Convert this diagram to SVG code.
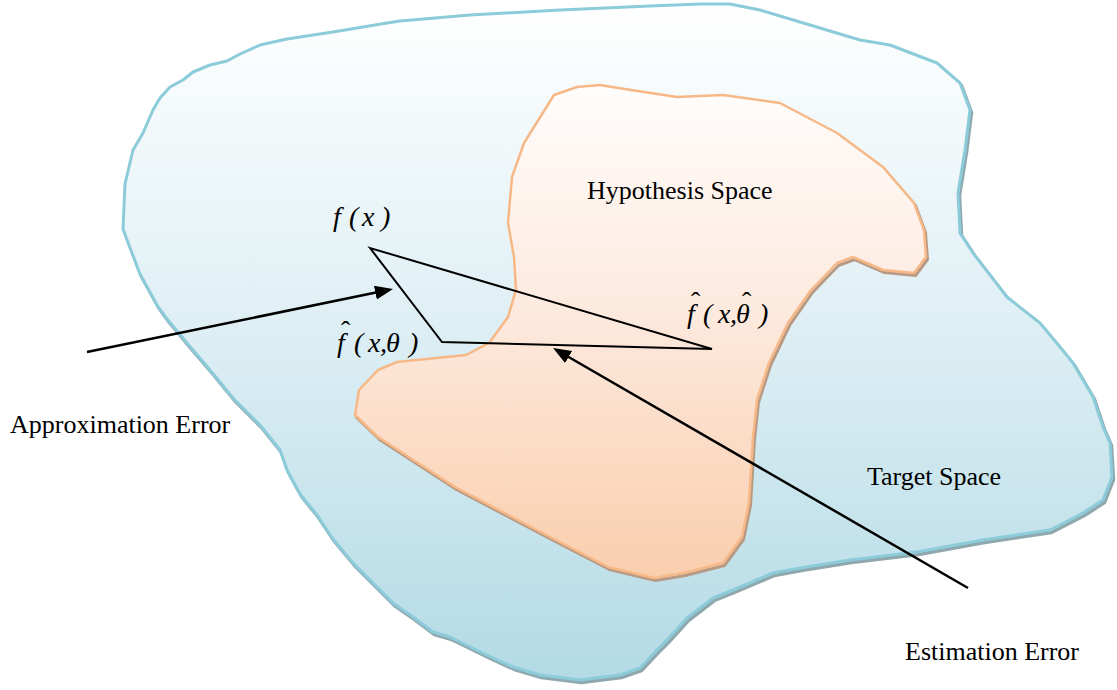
<svg xmlns="http://www.w3.org/2000/svg" width="1117" height="690" viewBox="0 0 1117 690">
  <style>
    .lbl { font-family: "Liberation Serif", "Times New Roman", serif; font-size: 26px; fill: #000; }
    .math { font-family: "Liberation Serif", "Times New Roman", serif; font-style: italic; font-size: 28px; fill: #000; }
    .hat { font-style: normal; }
    .conn { stroke: #000; fill: none; }
  </style>
  <defs>
    <linearGradient id="blueGrad" x1="0" y1="0" x2="0" y2="1">
      <stop offset="0" stop-color="#ffffff"/>
      <stop offset="0.45" stop-color="#e0f0f5"/>
      <stop offset="1" stop-color="#b3dae5"/>
    </linearGradient>
    <linearGradient id="orangeGrad" x1="0" y1="0" x2="0" y2="1">
      <stop offset="0" stop-color="#fffdfc"/>
      <stop offset="0.45" stop-color="#fdeadf"/>
      <stop offset="1" stop-color="#f9cead"/>
    </linearGradient>
    <marker id="arrow" markerUnits="userSpaceOnUse" markerWidth="20" markerHeight="16" refX="8" refY="7" orient="auto">
      <path d="M0,0 L18,7 L0,14 Z" fill="#000"/>
    </marker>
  </defs>

  <g id="target-space">
    <path transform="translate(1.5,2.5)" fill="none" stroke="#8ea8ae" stroke-width="3.5" stroke-linejoin="round"
      d="M133,150 L143,133 L153,110 L160,98 L170,87 L183,80 L193,72 L210,65 L227,61 L240,54 L260,45 L287,39 L333,32 L387,23 L400,21 L470,15 L560,10 L650,6 L700,4 L730,4 L760,10 L810,25 L860,40 L890,45 L937,63 L960,83 L970,110 L965,150 L958,193 L960,233 L973,253 L1007,297 L1040,323 L1060,347 L1073,363 L1083,380 L1093,397 L1103,427 L1110,443 L1112,477 L1103,500 L1083,513 L1050,530 L983,540 L917,552 L850,560 L800,568 L773,573 L733,590 L713,598 L687,618 L667,640 L657,650 L640,668 L620,675 L580,680 L540,675 L513,667 L493,658 L450,637 L433,632 L413,617 L393,603 L377,587 L353,563 L333,539 L317,515 L300,494 L287,470 L280,450 L260,425 L233,398 L210,370 L187,343 L167,319 L157,305 L140,274 L132,253 L123,229 L125,184 Z"/>
    <path fill="url(#blueGrad)" stroke="#8ccbd9" stroke-width="3" stroke-linejoin="round"
      d="M133,150 L143,133 L153,110 L160,98 L170,87 L183,80 L193,72 L210,65 L227,61 L240,54 L260,45 L287,39 L333,32 L387,23 L400,21 L470,15 L560,10 L650,6 L700,4 L730,4 L760,10 L810,25 L860,40 L890,45 L937,63 L960,83 L970,110 L965,150 L958,193 L960,233 L973,253 L1007,297 L1040,323 L1060,347 L1073,363 L1083,380 L1093,397 L1103,427 L1110,443 L1112,477 L1103,500 L1083,513 L1050,530 L983,540 L917,552 L850,560 L800,568 L773,573 L733,590 L713,598 L687,618 L667,640 L657,650 L640,668 L620,675 L580,680 L540,675 L513,667 L493,658 L450,637 L433,632 L413,617 L393,603 L377,587 L353,563 L333,539 L317,515 L300,494 L287,470 L280,450 L260,425 L233,398 L210,370 L187,343 L167,319 L157,305 L140,274 L132,253 L123,229 L125,184 Z"/>
  </g>

  <g id="hypothesis-space">
    <path transform="translate(1.5,2.5)" fill="none" stroke="#b89a84" stroke-width="3" stroke-linejoin="round"
      d="M554,95 L577,87 L600,85 L631,90 L677,97 L723,95 L780,103 L837,133 L883,167 L914,203 L924,230 L926,257 L914,273 L883,270 L853,257 L837,263 L811,290 L788,323 L769,363 L757,400 L753,437 L749,503 L742,537 L723,563 L684,573 L654,578 L608,567 L550,537 L455,487 L378,437 L355,415 L359,390 L378,370 L397,362 L466,355 L489,343 L508,317 L516,290 L514,257 L508,223 L512,177 L524,143 Z"/>
    <path fill="url(#orangeGrad)" stroke="#f7b887" stroke-width="2.5" stroke-linejoin="round"
      d="M554,95 L577,87 L600,85 L631,90 L677,97 L723,95 L780,103 L837,133 L883,167 L914,203 L924,230 L926,257 L914,273 L883,270 L853,257 L837,263 L811,290 L788,323 L769,363 L757,400 L753,437 L749,503 L742,537 L723,563 L684,573 L654,578 L608,567 L550,537 L455,487 L378,437 L355,415 L359,390 L378,370 L397,362 L466,355 L489,343 L508,317 L516,290 L514,257 L508,223 L512,177 L524,143 Z"/>
  </g>

  <g id="labels">
    <text class="lbl" x="587" y="199">Hypothesis Space</text>
    <text class="lbl" x="10" y="433">Approximation Error</text>
    <text class="lbl" x="867" y="485">Target Space</text>
    <text class="lbl" x="905" y="660">Estimation Error</text>
  </g>

  <g id="f-x">
    <text class="math"><tspan x="333" y="226">f</tspan><tspan x="349" y="226">(</tspan><tspan x="362" y="226">x</tspan><tspan x="381" y="226">)</tspan></text>
  </g>

  <g id="f-hat-theta">
    <text class="math"><tspan x="337" y="352">f</tspan><tspan class="hat" x="341" y="340">ˆ</tspan><tspan x="354" y="352">(</tspan><tspan x="368" y="352">x</tspan><tspan x="380" y="352">,</tspan><tspan x="386" y="352">θ</tspan><tspan x="409" y="352">)</tspan></text>
  </g>

  <g id="f-hat-theta-hat">
    <text class="math"><tspan x="687" y="323">f</tspan><tspan class="hat" x="691" y="311">ˆ</tspan><tspan x="703" y="323">(</tspan><tspan x="718" y="323">x</tspan><tspan x="730" y="323">,</tspan><tspan x="736" y="323">θ</tspan><tspan class="hat" x="742" y="311">ˆ</tspan><tspan x="759" y="323">)</tspan></text>
  </g>

  <g id="connectors">
    <polygon class="conn" points="370,248 442,342 712,349" stroke-width="2" stroke-linejoin="miter"/>
    <line class="conn" x1="87" y1="352" x2="383.2" y2="291.0" stroke-width="2.5" marker-end="url(#arrow)"/>
    <line class="conn" x1="968" y1="588" x2="561.7" y2="353.0" stroke-width="2.5" marker-end="url(#arrow)"/>
  </g>
</svg>
